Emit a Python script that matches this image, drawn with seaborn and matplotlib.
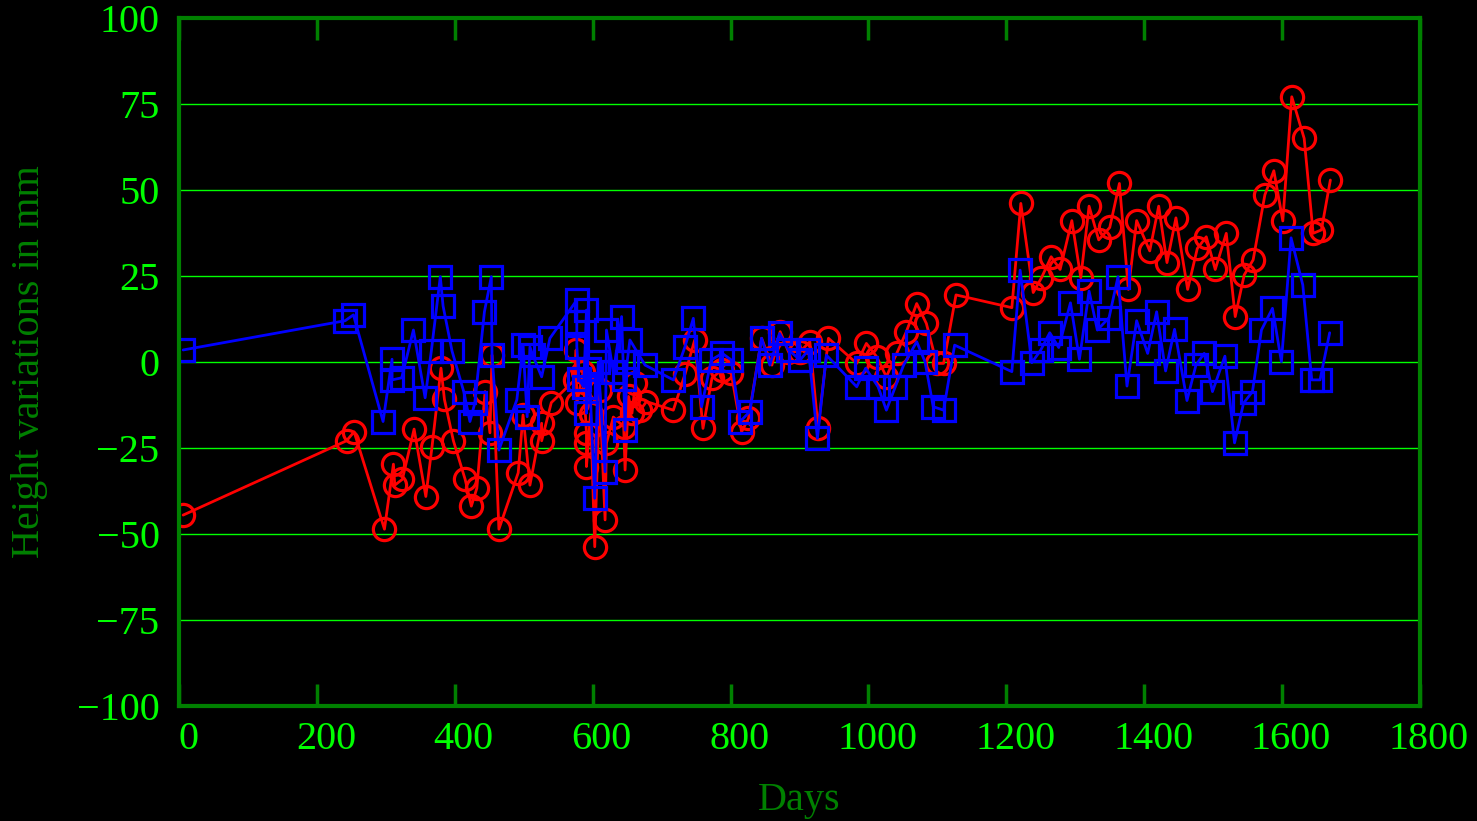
import numpy as np
import pandas as pd
import seaborn as sns
import matplotlib
matplotlib.use("Agg")
import matplotlib.pyplot as plt
from matplotlib.transforms import ScaledTranslation

# ---- data ----
red_days = [6, 243, 254, 298, 311, 313, 324, 341, 358, 367, 380, 385, 398, 415, 424, 432,
            444, 451, 454, 464, 492, 499, 509, 526, 526, 540,
            574, 576, 577, 586, 591, 591, 591, 597, 603, 610, 618, 620, 630, 645, 647,
            652, 657, 662, 669, 678, 717, 734, 748, 760, 773, 787, 801, 816, 826, 845,
            860, 872, 884, 901, 915, 927, 942, 983, 997, 1012, 1026, 1041, 1055, 1070,
            1084, 1099, 1109, 1127, 1208, 1221, 1239, 1251, 1265, 1278, 1295, 1308, 1320,
            1334, 1350, 1364, 1377, 1389, 1408, 1421, 1433, 1446, 1463, 1477, 1490, 1503,
            1519, 1532, 1545, 1558, 1575, 1588, 1601, 1614, 1632, 1645, 1657, 1670]
red_vals = [-44.5, -22.9, -20.3, -48.6, -29.7, -35.8, -34.1, -19.5, -39.1, -24.6, -1.8, -10.9,
            -22.9, -34.1, -41.9, -36.7, -8.6, -20.6, 2.0, -48.6, -32.2, -15.4, -35.8, -17.8,
            -22.9, -11.8,
            -5.2, 3.5, -12.0, -3.0, -20.7, -23.6, -30.4, -15.0, -53.7, -8.0, -45.9, -23.6,
            -16.0, -18.8, -31.4, -10.0, -14.9, -6.0, -14.0, -11.5, -14.0, -3.5, 6.4, -19.3,
            -4.7, -2.3, -3.3, -20.3, -16.4, 6.9, -0.9, 8.8, 3.0, 3.0, 5.9, -19.3, 6.9, -0.4,
            5.4, 1.5, -4.3, 2.5, 8.8, 17.0, 11.2, -0.4, -0.4, 19.5, 15.8, 46.1, 20.2, 24.5,
            30.6, 26.9, 41.1, 24.5, 45.3, 35.5, 39.1, 51.9, 21.1, 41.1, 32.3, 45.3, 28.9,
            41.9, 21.1, 33.0, 36.4, 26.9, 37.4, 13.2, 25.3, 29.7, 48.6, 55.6, 41.0, 77.1,
            65.0, 37.4, 38.4, 52.9]

blue_days = [6, 241, 253, 296, 309, 309, 323, 340, 357, 366, 379, 383, 396, 413, 422, 429,
             443, 453, 454, 464, 490, 499, 505, 509, 513, 526, 538,
             577, 577, 577, 580, 587, 591, 591, 595, 603, 608, 618, 620, 630, 642, 645,
             647, 650, 654, 676, 717, 734, 746, 758, 772, 788, 801, 814, 828, 845, 857,
             871, 884, 901, 913, 926, 939, 983, 996, 1014, 1026, 1039, 1051, 1070, 1082,
             1094, 1109, 1125, 1208, 1220, 1237, 1250, 1263, 1276, 1293, 1306, 1320, 1332,
             1349, 1362, 1375, 1389, 1405, 1418, 1431, 1444, 1462, 1475, 1487, 1499, 1517,
             1531, 1544, 1557, 1570, 1586, 1599, 1613, 1630, 1643, 1655, 1669]
blue_vals = [3.5, 12.0, 13.7, -17.3, 0.8, -5.2, -4.6, 9.3, -10.4, 3.2, 24.8, 16.3, 3.2, -8.6,
             -17.3, -12.0, 14.6, 24.8, 2.0, -25.6, -11.0, 4.9, -15.9, 4.4, 2.0, -4.3, 6.9,
             18.0, 11.7, 4.5, -5.0, -7.2, 15.1, -14.9, -2.0, -39.6, 0.0, -31.9, 9.3, -3.0,
             13.2, -5.0, -19.8, 0.0, 6.4, -0.9, -5.2, 4.5, 12.7, -13.0, 0.6, 2.5, 0.6, -17.3,
             -14.4, 6.9, -0.9, 8.3, 3.5, 0.6, 3.5, -22.2, 2.0, -7.2, -1.8, -7.2, -14.0, -7.2,
             -0.9, 5.9, 0.1, -13.0, -14.0, 4.9, -2.8, 26.7, -0.2, 3.5, 8.5, 4.2, 17.2, 0.8,
             20.6, 9.3, 12.9, 24.8, -7.0, 12.0, 2.5, 14.6, -2.6, 9.5, -11.2, -0.9, 2.5, -8.6,
             1.7, -23.5, -12.0, -8.6, 9.3, 15.6, 0.1, 36.1, 22.4, -5.2, -5.2, 8.5]

x_ticks = [0, 200, 400, 600, 800, 1000, 1200, 1400, 1600, 1800]
y_ticks = [-100, -75, -50, -25, 0, 25, 50, 75, 100]
x_label = "Days"
y_label = "Height variations in mm"

# ---- style ----
sns.set_theme(style="dark")
plt.rcParams['font.family'] = ['Liberation Serif', 'DejaVu Serif']
plt.rcParams['axes.unicode_minus'] = True

DARK = "#008000"
BRIGHT = "#00ff00"

fig = plt.figure(figsize=(14.77, 8.21), dpi=100, facecolor="black")
ax = fig.add_axes([179/1477, 1 - 706/821, (1420-179)/1477, (706-18)/821])
ax.set_facecolor("black")

red_df = pd.DataFrame({"day": red_days, "val": red_vals})
blue_df = pd.DataFrame({"day": blue_days, "val": blue_vals})

sns.lineplot(data=red_df, x="day", y="val", ax=ax, sort=False, estimator=None,
             color="#ff0000", linewidth=2.0, marker="o", markersize=16,
             markerfacecolor="none", markeredgecolor="#ff0000", markeredgewidth=2.3)
sns.lineplot(data=blue_df, x="day", y="val", ax=ax, sort=False, estimator=None,
             color="#0000ff", linewidth=2.0, marker="s", markersize=15.5,
             markerfacecolor="none", markeredgecolor="#0000ff", markeredgewidth=2.3)

ax.set_xlim(0, 1800)
ax.set_ylim(-100, 100)
ax.set_xticks(x_ticks)
ax.set_yticks(y_ticks)

ax.grid(False)
for v in y_ticks[1:-1]:
    ax.axhline(v, color=BRIGHT, linewidth=1.0, zorder=0.5)

for s in ax.spines.values():
    s.set_visible(True)
    s.set_color(DARK)
    s.set_linewidth(3)

ax.tick_params(axis="x", which="major", direction="in", length=16, width=2.5,
               color=DARK, top=True, bottom=True, labelsize=29, labelcolor=BRIGHT, pad=11)
ax.tick_params(axis="y", which="major", length=0, labelsize=29, labelcolor=BRIGHT, pad=14)

offset = ScaledTranslation(9/100, 0, fig.dpi_scale_trans)
for lab in ax.get_xticklabels():
    lab.set_transform(lab.get_transform() + offset)

ax.set_xlabel(x_label, color=DARK, fontsize=29, labelpad=17)
ax.set_ylabel(y_label, color=DARK, fontsize=29, labelpad=21)

fig.savefig("out.png", dpi=100, facecolor="black")
